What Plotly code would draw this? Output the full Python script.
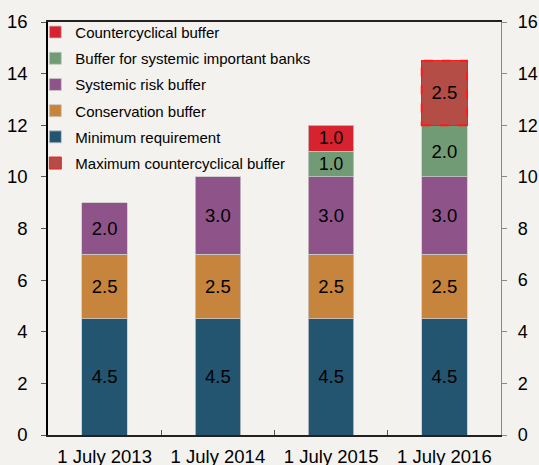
import plotly.graph_objects as go

# categories and buffer values (percentage points)
dates = ['1 July 2013', '1 July 2014', '1 July 2015', '1 July 2016']
minimum_req = [4.5, 4.5, 4.5, 4.5]
conservation = [2.5, 2.5, 2.5, 2.5]
systemic_risk = [2.0, 3.0, 3.0, 3.0]
sib_buffer = [None, None, 1.0, 2.0]
countercyclical = [None, None, 1.0, None]
max_countercyclical = [None, None, None, 2.5]

y_ticks = [0, 2, 4, 6, 8, 10, 12, 14, 16]

series = [
    ('Minimum requirement', minimum_req, '#235470', 5),
    ('Conservation buffer', conservation, '#C6843C', 4),
    ('Systemic risk buffer', systemic_risk, '#8E5489', 3),
    ('Buffer for systemic important banks', sib_buffer, '#719B74', 2),
    ('Countercyclical buffer', countercyclical, '#D7232F', 1),
    ('Maximum countercyclical buffer', max_countercyclical, '#B44D45', 6),
]

bar_w = 0.4
bg = '#F3F2EE'
font = 'Liberation Sans, Arial, sans-serif'

fig = go.Figure()
for name, vals, color, rank in series:
    is_max = name.startswith('Maximum')
    fig.add_trace(go.Bar(
        x=dates, y=vals, name=name, width=bar_w,
        marker=dict(color=color,
                    line=dict(color='#FF1A1A' if is_max else '#C8C8C8', width=1 if is_max else 0.8)),
        text=['' if v is None else f'{v:.1f}' for v in vals],
        textposition='inside', insidetextanchor='middle', textangle=0,
        textfont=dict(color='black', size=18.5, family=font),
        legendrank=rank, legendgroup=name,
    ))

# dashed outline around the maximum countercyclical buffer
for i, v in enumerate(max_countercyclical):
    if v is None:
        continue
    base = sum(s[1][i] or 0 for s in series[:-1])
    fig.add_shape(type='rect', xref='x', yref='y',
                  x0=i - bar_w / 2, x1=i + bar_w / 2, y0=base, y1=base + v,
                  line=dict(color='#FF1A1A', width=2, dash='dash'))

# invisible trace so the right axis is drawn
fig.add_trace(go.Scatter(x=dates, y=[None] * len(dates), yaxis='y2', showlegend=False,
                         hoverinfo='skip'))

fig.update_layout(
    barmode='stack',
    width=539, height=465,
    margin=dict(l=48, r=38, t=22, b=30, autoexpand=False),
    paper_bgcolor=bg, plot_bgcolor=bg,
    font=dict(family=font, size=18.5, color='black'),
    legend=dict(x=-0.028, y=1.015, xanchor='left', yanchor='top', bgcolor='rgba(0,0,0,0)',
                font=dict(size=15), tracegroupgap=3.7, itemwidth=30),
    xaxis=dict(showline=True, mirror=True, linecolor='#222', linewidth=1.5, ticks='inside',
               ticklen=5, tickcolor='#555', tickson='boundaries', showgrid=False,
               tickfont=dict(size=18.5), ticklabelstandoff=4, automargin=False),
    yaxis=dict(range=[0, 16], tickvals=y_ticks, showline=True, linecolor='black', linewidth=1.5,
               ticks='outside', ticklen=5, tickcolor='#555', showgrid=False, zeroline=False,
               ticklabelstandoff=10, automargin=False),
    yaxis2=dict(range=[0, 16], tickvals=y_ticks, overlaying='y', side='right', showline=True,
                linecolor='#888', linewidth=1.2, ticks='outside', ticklen=5, tickcolor='#888',
                showgrid=False, zeroline=False, ticklabelstandoff=7, automargin=False,
                tickfont=dict(size=18)),
)

# drop the default page margin so the figure fills the window
page_js = ("document.body.style.margin='0';document.body.style.overflow='hidden';"
           f"document.body.style.background='{bg}';")
fig.write_html('out.html', post_script=page_js, config={'displayModeBar': False})
